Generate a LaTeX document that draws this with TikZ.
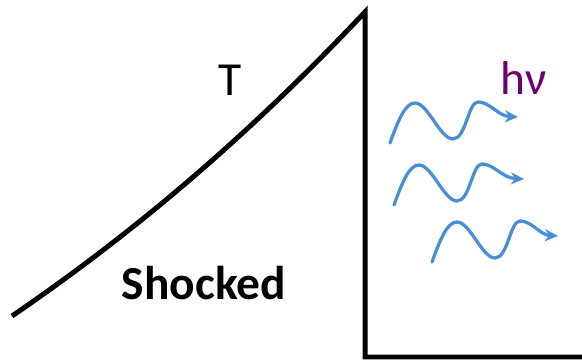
\documentclass[tikz,border=0pt]{standalone}
\usepackage{fontspec}
\setmainfont{Carlito}
\usetikzlibrary{arrows.meta}

\definecolor{photonBlue}{RGB}{72,142,214}
\definecolor{nuPurple}{RGB}{112,0,112}

\begin{document}
\begin{tikzpicture}[
    x=0.02cm, y=0.02cm,
    profile/.style={draw, line width=0.1cm, line join=miter},
    wave/.style={draw=photonBlue, line width=0.065cm, line cap=round, -{Stealth[length=0.26cm, width=0.24cm, inset=0.08cm]}},
    labelStyle/.style={font=\fontsize{27}{30}\selectfont, text=black, inner sep=0pt}
]
\useasboundingbox (0,0) rectangle (582,362);

% ----------------------------------------------------
% Temperature profile and shock front
% ----------------------------------------------------
\draw[profile] (12,46) .. controls (138,132) and (252,230) .. (365,350)
    -- (365,5) -- (582,5);

\node[labelStyle] (Temp) at (230,282) {T};
\node[labelStyle, font=\fontsize{27}{30}\selectfont\bfseries] (Shocked) at (204,79) {Shocked};

% ----------------------------------------------------
% Escaping photons
% ----------------------------------------------------
\node[labelStyle, text=nuPurple] (Photon) at (524,284) {hν};

\draw[wave, shift={(390,219)}] (0,0) .. controls (8,22) and (15,40) .. (25,40)
    .. controls (38,40) and (50,4) .. (63,4) .. controls (76,4) and (78,41) .. (88,41)
    .. controls (100,41) and (108,27) .. (128,26);
\draw[wave, shift={(394,157)}] (0,0) .. controls (8,22) and (15,40) .. (25,40)
    .. controls (38,40) and (50,4) .. (63,4) .. controls (76,4) and (78,41) .. (88,41)
    .. controls (100,41) and (108,27) .. (130,26);
\draw[wave, shift={(432,100)}] (0,0) .. controls (8,22) and (15,40) .. (25,40)
    .. controls (38,40) and (50,4) .. (63,4) .. controls (76,4) and (78,41) .. (88,41)
    .. controls (100,41) and (108,27) .. (126,26);

\end{tikzpicture}
\end{document}
